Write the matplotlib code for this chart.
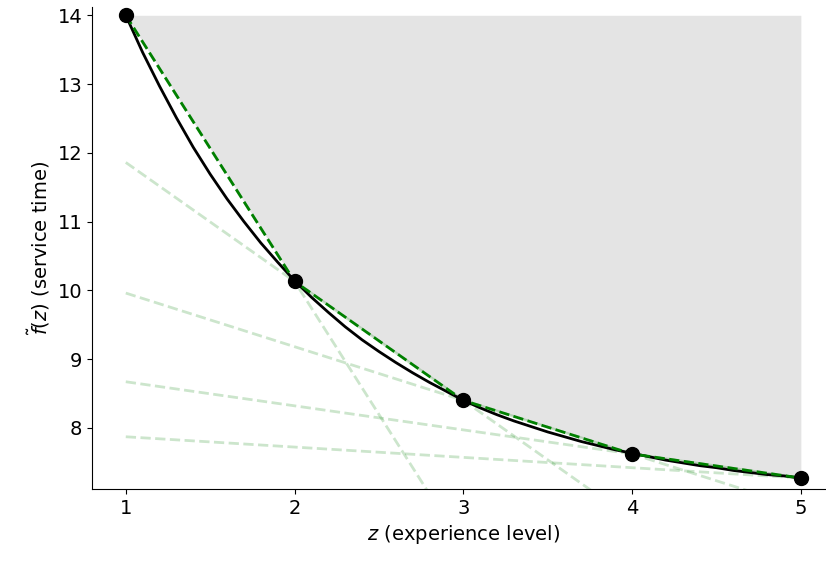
import numpy as np
import matplotlib.pyplot as plt

# experience levels and service times at the knots
z_pts = [1, 2, 3, 4, 5]
f_pts = [14.0, 10.13, 8.40, 7.62, 7.27]
# next knot past the plotted range (only used for the last supporting line)
z_next = 6
f_next = 7.12

# smooth curve values, every 0.1 in z
z_curve = [round(1 + 0.1 * k, 1) for k in range(41)]
f_curve = [14.00, 13.46, 12.97, 12.51, 12.08, 11.69, 11.33, 11.00, 10.69, 10.41,
           10.14, 9.90, 9.68, 9.47, 9.28, 9.11, 8.95, 8.80, 8.66, 8.53,
           8.40, 8.29, 8.19, 8.10, 8.02, 7.94, 7.87, 7.80, 7.74, 7.68,
           7.63, 7.58, 7.53, 7.49, 7.45, 7.42, 7.38, 7.35, 7.32, 7.30,
           7.27]

fill_top = 14.0

fig = plt.figure(figsize=(8.26, 5.65), dpi=100)
ax = fig.add_axes([0.1114, 0.1345, 0.899, 0.853])

ax.fill_between(z_pts, f_pts, fill_top, color="#e4e4e4", lw=0, zorder=0)

# extend every segment over the full range
zz = list(z_pts) + [z_next]
ff = list(f_pts) + [f_next]
for i in range(len(zz) - 1):
    slope = (ff[i + 1] - ff[i]) / (zz[i + 1] - zz[i])
    x0, x1 = z_pts[0], z_pts[-1]
    y0 = ff[i] + slope * (x0 - zz[i])
    y1 = ff[i] + slope * (x1 - zz[i])
    ax.plot([x0, x1], [y0, y1], "--", color="green", alpha=0.2, lw=2, zorder=1)

ax.plot(z_curve, f_curve, color="black", lw=2, zorder=2)
ax.plot(z_pts, f_pts, "--", color="green", lw=2, zorder=3)
ax.plot(z_pts, f_pts, "o", color="black", ms=10, zorder=4)

ax.set_xlim(0.8, 5.2)
ax.set_ylim(7.11, 14.12)
ax.set_xticks([1, 2, 3, 4, 5])
ax.set_yticks([8, 9, 10, 11, 12, 13, 14])
ax.tick_params(labelsize=14)
ax.spines["top"].set_visible(False)
ax.spines["right"].set_visible(False)

ax.set_xlabel("$z$ (experience level)", fontsize=14)
ax.set_ylabel(r"$\tilde{f}(z)$ (service time)", fontsize=14)

plt.savefig("out.png", dpi=100)
plt.close()
